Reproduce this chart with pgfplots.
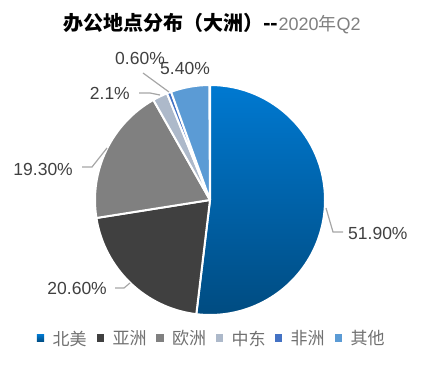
\documentclass[border=0pt]{standalone}
\usepackage{pgfplots}
\pgfplotsset{compat=1.18}
\usepackage{fontspec}
\setmainfont{Liberation Sans}
\newfontfamily\cjk{Noto Sans CJK SC}
\definecolor{naTop}{HTML}{0079D1}
\definecolor{naBot}{HTML}{004B80}
\definecolor{cAS}{HTML}{404040}
\definecolor{cEU}{HTML}{808080}
\definecolor{cME}{HTML}{ADB9CA}
\definecolor{cAF}{HTML}{4472C4}
\definecolor{cOT}{HTML}{5B9BD5}
\definecolor{lbl}{HTML}{404040}
\definecolor{lead}{HTML}{A6A6A6}
\definecolor{leg}{HTML}{707070}
\definecolor{ttlgray}{HTML}{7F7F7F}
\tikzset{
  sNA/.style={top color=naTop,bottom color=naBot},
  sAS/.style={fill=cAS},
  sEU/.style={fill=cEU},
  sME/.style={fill=cME},
  sAF/.style={fill=cAF},
  sOT/.style={fill=cOT},
  pct/.style={text=lbl,inner sep=0pt,font=\fontsize{17.5bp}{20bp}\selectfont},
  ldr/.style={draw=lead,line width=1.2bp}
}
\begin{document}
\begin{tikzpicture}
\begin{axis}[width=422bp,height=368bp,scale only axis,
  xmin=0,xmax=422,ymin=0,ymax=368,hide axis,clip=false]
\pgfplotsextra{
  \path (axis cs:0,0) rectangle (axis cs:422,368);
  \gdef\cum{0}
  \foreach \v/\s in {51.9/sNA,20.6/sAS,19.3/sEU,2.1/sME,0.6/sAF,5.4/sOT}{
    \pgfmathsetmacro\a{90-3.6*\cum}
    \pgfmathsetmacro\b{90-3.6*(\cum+\v)}
    \path[\s,draw=white,line width=2bp,line join=round] (axis cs:210,168) -- ++(\a:115bp) arc[start angle=\a,end angle=\b,radius=115bp] -- cycle;
    \pgfmathsetmacro\n{\cum+\v}\xdef\cum{\n}
  }
  % leader lines
  \draw[ldr] (axis cs:326,160) -- (axis cs:333,136) -- (axis cs:343,136);
  \draw[ldr] (axis cs:115,80) -- (axis cs:124,80) -- (axis cs:130,85);
  \draw[ldr] (axis cs:82,201) -- (axis cs:92,201) -- (axis cs:107,220);
  \draw[ldr] (axis cs:139,275) -- (axis cs:150,275) -- (axis cs:160,273);
  \draw[ldr] (axis cs:143,295) -- (axis cs:169,276);
  % labels
  \node[pct,anchor=west] at (axis cs:348,135) {51.90\%};
  \node[pct,anchor=east] at (axis cs:107,80) {20.60\%};
  \node[pct,anchor=east] at (axis cs:73,199) {19.30\%};
  \node[pct,anchor=east] at (axis cs:130,275) {2.1\%};
  \node[pct,anchor=west] at (axis cs:115,310) {0.60\%};
  \node[pct,anchor=west] at (axis cs:160,300) {5.40\%};
  % title
  \node[inner sep=0pt] at (axis cs:212,344) {{\cjk\bfseries\fontsize{20bp}{24bp}\selectfont 办公地点分布（大洲）-{}-}{\color{ttlgray}\fontsize{18bp}{22bp}\selectfont 2020{\cjk 年}Q2}};
  % legend
  \foreach \x/\s/\t in {40.5/sNA/北美,100.5/sAS/亚洲,160/sEU/欧洲,219.5/sME/中东,278.5/sAF/非洲,338.5/sOT/其他}{
    \path[\s] (axis cs:\x,30) ++(-3.7bp,-3.7bp) rectangle ++(7.4bp,7.4bp);
    \node[anchor=west,inner sep=0pt,text=leg,font=\cjk\fontsize{17bp}{20bp}\selectfont] at ([xshift=12bp]axis cs:\x,29.5) {\t};
  }
}
\end{axis}
\end{tikzpicture}
\end{document}
